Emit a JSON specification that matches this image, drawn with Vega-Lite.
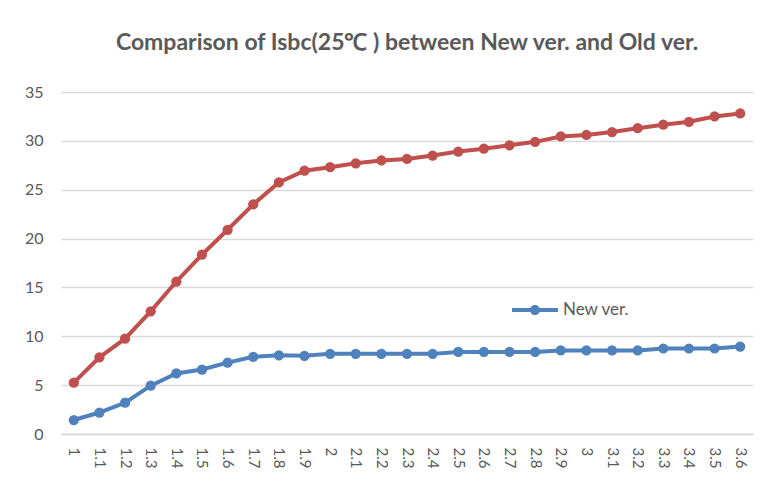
{
  "$schema": "https://vega.github.io/schema/vega-lite/v6.json",
  "width": 692,
  "height": 342,
  "autosize": {"type": "none"},
  "padding": {"left": 61, "top": 92, "right": 24, "bottom": 51},
  "background": "white",
  "title": {
    "text": "Comparison of Isbc(25℃ ) between New ver. and Old ver.",
    "font": "Lato",
    "fontSize": 23,
    "fontWeight": "bold",
    "color": "#595959",
    "anchor": "middle",
    "offset": 29
  },
  "config": {
    "view": {"stroke": null},
    "axis": {"labelFont": "Lato", "labelColor": "#595959", "titleColor": "#595959"}
  },
  "data": {
    "values": [
      {"x": "1", "series": "Old ver.", "value": 5.25},
      {"x": "1.1", "series": "Old ver.", "value": 7.85},
      {"x": "1.2", "series": "Old ver.", "value": 9.75},
      {"x": "1.3", "series": "Old ver.", "value": 12.55},
      {"x": "1.4", "series": "Old ver.", "value": 15.6},
      {"x": "1.5", "series": "Old ver.", "value": 18.35},
      {"x": "1.6", "series": "Old ver.", "value": 20.9},
      {"x": "1.7", "series": "Old ver.", "value": 23.5},
      {"x": "1.8", "series": "Old ver.", "value": 25.75},
      {"x": "1.9", "series": "Old ver.", "value": 26.95},
      {"x": "2", "series": "Old ver.", "value": 27.3},
      {"x": "2.1", "series": "Old ver.", "value": 27.7},
      {"x": "2.2", "series": "Old ver.", "value": 28.0},
      {"x": "2.3", "series": "Old ver.", "value": 28.15},
      {"x": "2.4", "series": "Old ver.", "value": 28.5},
      {"x": "2.5", "series": "Old ver.", "value": 28.9},
      {"x": "2.6", "series": "Old ver.", "value": 29.2},
      {"x": "2.7", "series": "Old ver.", "value": 29.55},
      {"x": "2.8", "series": "Old ver.", "value": 29.9},
      {"x": "2.9", "series": "Old ver.", "value": 30.45},
      {"x": "3", "series": "Old ver.", "value": 30.6},
      {"x": "3.1", "series": "Old ver.", "value": 30.9},
      {"x": "3.2", "series": "Old ver.", "value": 31.3},
      {"x": "3.3", "series": "Old ver.", "value": 31.65},
      {"x": "3.4", "series": "Old ver.", "value": 31.95},
      {"x": "3.5", "series": "Old ver.", "value": 32.5},
      {"x": "3.6", "series": "Old ver.", "value": 32.8},
      {"x": "1", "series": "New ver.", "value": 1.43},
      {"x": "1.1", "series": "New ver.", "value": 2.2},
      {"x": "1.2", "series": "New ver.", "value": 3.2},
      {"x": "1.3", "series": "New ver.", "value": 4.95},
      {"x": "1.4", "series": "New ver.", "value": 6.2},
      {"x": "1.5", "series": "New ver.", "value": 6.6},
      {"x": "1.6", "series": "New ver.", "value": 7.3},
      {"x": "1.7", "series": "New ver.", "value": 7.9},
      {"x": "1.8", "series": "New ver.", "value": 8.05},
      {"x": "1.9", "series": "New ver.", "value": 8.0},
      {"x": "2", "series": "New ver.", "value": 8.2},
      {"x": "2.1", "series": "New ver.", "value": 8.2},
      {"x": "2.2", "series": "New ver.", "value": 8.2},
      {"x": "2.3", "series": "New ver.", "value": 8.2},
      {"x": "2.4", "series": "New ver.", "value": 8.2},
      {"x": "2.5", "series": "New ver.", "value": 8.4},
      {"x": "2.6", "series": "New ver.", "value": 8.4},
      {"x": "2.7", "series": "New ver.", "value": 8.4},
      {"x": "2.8", "series": "New ver.", "value": 8.4},
      {"x": "2.9", "series": "New ver.", "value": 8.55},
      {"x": "3", "series": "New ver.", "value": 8.55},
      {"x": "3.1", "series": "New ver.", "value": 8.55},
      {"x": "3.2", "series": "New ver.", "value": 8.55},
      {"x": "3.3", "series": "New ver.", "value": 8.75},
      {"x": "3.4", "series": "New ver.", "value": 8.75},
      {"x": "3.5", "series": "New ver.", "value": 8.75},
      {"x": "3.6", "series": "New ver.", "value": 8.95}
    ]
  },
  "mark": {
    "type": "line",
    "strokeWidth": 4,
    "point": {"size": 105, "filled": true, "opacity": 1}
  },
  "encoding": {
    "x": {
      "field": "x",
      "type": "ordinal",
      "sort": null,
      "scale": {"type": "point", "padding": 0.5},
      "axis": {
        "title": null,
        "labelAngle": 90,
        "labelAlign": "left",
        "labelBaseline": "middle",
        "labelFontSize": 15,
        "labelPadding": 13,
        "ticks": false,
        "grid": false,
        "domainColor": "#D9D9D9",
        "domainWidth": 1.5
      }
    },
    "y": {
      "field": "value",
      "type": "quantitative",
      "scale": {"domain": [0, 35], "nice": false},
      "axis": {
        "title": null,
        "values": [0, 5, 10, 15, 20, 25, 30, 35],
        "labelFontSize": 16,
        "labelPadding": 18,
        "ticks": false,
        "domain": false,
        "gridColor": "#D9D9D9",
        "gridWidth": 1.5
      }
    },
    "color": {
      "field": "series",
      "type": "nominal",
      "scale": {"domain": ["New ver.", "Old ver."], "range": ["#4F81BD", "#C0504D"]},
      "legend": {
        "values": ["New ver."],
        "title": null,
        "orient": "none",
        "legendX": 451,
        "legendY": 195,
        "symbolType": "M-1,-0.09 H1 V0.09 H-1 Z M-0.22,0 A0.22,0.22 0 1,1 0.22,0 A0.22,0.22 0 1,1 -0.22,0 Z",
        "symbolSize": 2116,
        "symbolStrokeWidth": 0,
        "symbolFillColor": "#4F81BD",
        "labelFont": "Lato",
        "labelFontSize": 17,
        "labelColor": "#595959",
        "labelOffset": 5
      }
    }
  }
}
